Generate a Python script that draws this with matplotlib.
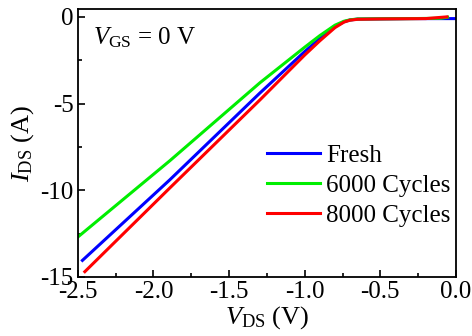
import matplotlib
matplotlib.use("Agg")
import matplotlib.pyplot as plt

# Output characteristics at V_GS = 0 V
v_fresh = [-2.47, -1.892, -1.296, -1.0, -0.9, -0.8, -0.74, -0.7, -0.65, -0.3, -0.01]
i_fresh = [-14.05, -9.4, -4.39, -2.0, -1.25, -0.55, -0.28, -0.18, -0.13, -0.1, -0.1]

v_6000 = [-2.50, -1.892, -1.296, -1.0, -0.9, -0.8, -0.74, -0.7, -0.65, -0.3, -0.1, -0.055]
i_6000 = [-12.7, -8.3, -3.8, -1.75, -1.08, -0.48, -0.25, -0.17, -0.12, -0.1, -0.08, -0.02]

v_8000 = [-2.454, -1.892, -1.296, -1.0, -0.9, -0.8, -0.74, -0.7, -0.65, -0.5, -0.2, -0.06]
i_8000 = [-14.7, -9.87, -4.79, -2.2, -1.38, -0.62, -0.3, -0.19, -0.14, -0.12, -0.1, 0.0]

labels = ["Fresh", "6000 Cycles", "8000 Cycles"]
colors = ["#0000ff", "#00ee00", "#ff0000"]

plt.rcParams["font.family"] = ["Liberation Serif", "DejaVu Serif"]
plt.rcParams["mathtext.fontset"] = "custom"
plt.rcParams["mathtext.rm"] = "Liberation Serif"
plt.rcParams["mathtext.it"] = "Liberation Serif:italic"
plt.rcParams["axes.unicode_minus"] = False

fig = plt.figure(figsize=(4.72, 3.36), dpi=100)
ax = fig.add_axes([0.165, 0.176, 0.801, 0.797])

series = [(v_fresh, i_fresh), (v_6000, i_6000), (v_8000, i_8000)]
for (v, i), lab, c in zip(series, labels, colors):
    ax.plot(v, i, color=c, lw=2.2, label=lab)

ax.set_xlim(-2.5, 0.0)
ax.set_ylim(-15, 0.45)
ax.set_xticks([-2.5, -2.0, -1.5, -1.0, -0.5, 0.0])
ax.set_xticklabels(["-2.5", "-2.0", "-1.5", "-1.0", "-0.5", "0.0"])
ax.set_xticks([-2.25, -1.75, -1.25, -0.75, -0.25], minor=True)
ax.set_yticks([0, -5, -10, -15])
ax.set_yticklabels(["0", "-5", "-10", "-15"])
ax.set_yticks([-2.5, -7.5, -12.5], minor=True)
ax.tick_params(which="both", direction="in", labelsize=18, width=1.2)
ax.tick_params(which="major", length=5, pad=3)
ax.tick_params(which="minor", length=3)
for s in ax.spines.values():
    s.set_linewidth(1.3)

ax.set_xlabel(r"$V_{\mathrm{DS}}$ (V)", fontsize=19, labelpad=1)
ax.set_ylabel(r"$I_{\mathrm{DS}}$ (A)", fontsize=19, labelpad=3)
ax.text(0.04, 0.94, r"$V_{\mathrm{GS}}$ = 0 V", transform=ax.transAxes,
        fontsize=18, va="top", ha="left")

ax.legend(loc="upper left", bbox_to_anchor=(0.455, 0.561), frameon=False,
          fontsize=18, handlelength=2.1, handletextpad=0.26,
          labelspacing=0.3, borderpad=0.2)

fig.savefig("out.png", dpi=100)
